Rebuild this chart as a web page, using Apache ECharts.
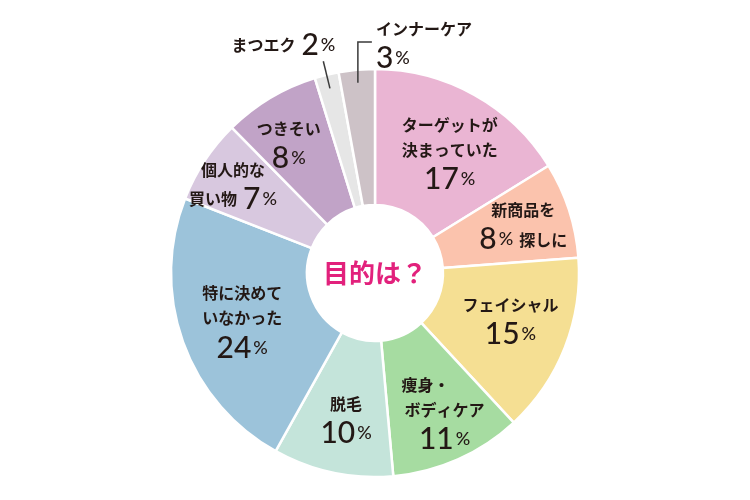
<!DOCTYPE html>
<html><head><meta charset="utf-8">
<script src="https://cdn.jsdelivr.net/npm/echarts@6/dist/echarts.min.js"></script>
<style>html,body{margin:0;padding:0;background:#fff}#c{width:750px;height:500px}</style>
</head><body><div id="c"></div>
<script>
const categories = ['ターゲットが決まっていた','新商品を探しに','フェイシャル','痩身・ボディケア','脱毛','特に決めていなかった','個人的な買い物','つきそい','まつエク','インナーケア'];
const values = [17, 8, 15, 11, 10, 24, 7, 8, 2, 3];
const colors = ['#eab5d3','#fbc3ad','#f5df93','#a6dca1','#c4e4da','#9cc3da','#d8c8df','#c1a3c7','#e6e6e6','#cdc2c7'];
const labelTexts = [
  '{n|ターゲットが}\n{n|決まっていた}\n{p|17}{s|%}',
  '{n|新商品を}\n{p|8}{s|%}{g| }{n|探しに}',
  '{n|フェイシャル}\n{p|15}{s|%}',
  '{nl|痩身・}\n{n|ボディケア}\n{p|11}{s|%}',
  '{n|脱毛}\n{p|10}{s|%}',
  '{n|特に決めて}\n{n|いなかった}\n{p|24}{s|%}',
  '{n|個人的な}\n{n|買い物}{g| }{p|7}{s|%}',
  '{n|つきそい}\n{p|8}{s|%}',
  '{n|まつエク}{g| }{p|2}{s|%}',
  '{n|インナーケア}\n{p|3}{s|%}'
];
const labelOffsets = [[7,3],[16,-3],[6,-2],[13,14],[0,12],[-2,3],[-26,-10],[-15,-8],[0,0],[0,0]];
const labelAligns = ['center','right','center','center','center','center','left','center','right','left'];

const CX = 375, CY = 273, R0 = 68, R1 = 204;
const total = values.reduce((a,b)=>a+b,0);
function midAngle(i){ let c=0; for(let k=0;k<i;k++) c+=values[k]; return (c + values[i]/2)/total*2*Math.PI; }
function polar(a, r){ return [CX + r*Math.sin(a), CY - r*Math.cos(a)]; }

// leader lines for the two small outside slices
const lineA = (function(){ const a = midAngle(8); return [polar(a, R1 - 14), polar(a, R1 + 14)]; })();
const lineB = (function(){ const a = midAngle(9); const s = polar(a, R1 - 13); const c = [s[0], CY - R1 - 27]; return [s, c, [c[0] + 14, c[1]]]; })();

const FONT = '"Noto Sans CJK JP", "Noto Sans", sans-serif';
const NUMFONT = 'Lato, "Noto Sans", sans-serif';
const rich = {
  n: {fontSize: 16, fontWeight: 'bold', color: '#231815', lineHeight: 25, fontFamily: FONT},
  nl: {fontSize: 16, fontWeight: 'bold', color: '#231815', lineHeight: 25, fontFamily: FONT, width: 86, align: 'left'},
  p: {fontSize: 30, fontWeight: 500, color: '#231815', lineHeight: 34, fontFamily: NUMFONT},
  s: {fontSize: 18, fontWeight: 500, color: '#231815', lineHeight: 34, fontFamily: NUMFONT, padding: [0,0,0,2]},
  g: {fontSize: 16, width: 6}
};

const data = values.map((v,i)=>{
  const outside = i >= 8;
  return {
    name: categories[i], value: v,
    itemStyle: {color: colors[i]},
    label: {
      show: true,
      position: outside ? 'outside' : 'inside',
      formatter: labelTexts[i],
      align: labelAligns[i],
      offset: labelOffsets[i],
      rich: rich
    },
    labelLine: {show: false}
  };
});

const chart = echarts.init(document.getElementById('c'), null, {renderer: 'canvas'});
chart.setOption({
  backgroundColor: '#fff',
  animation: false,
  series: [{
    type: 'pie',
    center: [CX, CY],
    radius: [R0, R1],
    startAngle: 90,
    clockwise: true,
    avoidLabelOverlap: false,
    itemStyle: {borderColor: '#fff', borderWidth: 2.5},
    label: {show: true},
    labelLine: {show: false},
    data: data,
    labelLayout: function(params){
      const i = params.dataIndex;
      if (i === 8) {
        const e = lineA[1];
        return {x: e[0] + 12, y: e[1] - 16, align: 'right', verticalAlign: 'middle'};
      }
      if (i === 9) {
        const c = lineB[1];
        return {x: c[0] + 18, y: c[1] + 4, align: 'left', verticalAlign: 'middle'};
      }
      return {};
    }
  }],
  graphic: [
    {type: 'polyline', z: 100, shape: {points: lineA}, style: {stroke: '#3a3a3a', lineWidth: 1.5, fill: null}},
    {type: 'polyline', z: 100, shape: {points: lineB}, style: {stroke: '#3a3a3a', lineWidth: 1.5, fill: null}},
    {type: 'text', x: CX, y: CY, z: 100,
      style: {text: '目的は？', fill: '#e2217c', font: 'bold 26px "Noto Sans CJK JP", sans-serif',
        textAlign: 'center', textVerticalAlign: 'middle'}}
  ]
});
</script></body></html>
